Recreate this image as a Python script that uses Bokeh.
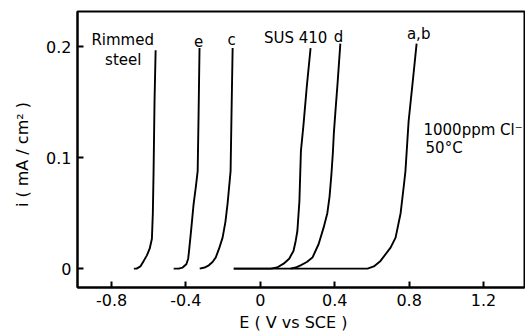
from bokeh.plotting import figure
from bokeh.models import FixedTicker, Label
from bokeh.embed import file_html
from bokeh.resources import INLINE

# Polarization curves: potential E (V vs SCE) and current density i (mA/cm^2)
rimmed_E = [-0.68, -0.665, -0.645, -0.627, -0.61, -0.595, -0.583, -0.578, -0.574, -0.569, -0.563]
rimmed_i = [0.0, 0.0, 0.002, 0.007, 0.012, 0.018, 0.027, 0.05, 0.088, 0.15, 0.197]

e_E = [-0.466, -0.44, -0.418, -0.398, -0.388, -0.384, -0.372, -0.359, -0.346, -0.337, -0.332, -0.327]
e_i = [0.0, 0.0, 0.001, 0.004, 0.009, 0.015, 0.035, 0.058, 0.075, 0.088, 0.14, 0.199]

c_E = [-0.326, -0.30, -0.277, -0.257, -0.24, -0.222, -0.203, -0.188, -0.176, -0.16, -0.155, -0.149]
c_i = [0.0, 0.001, 0.003, 0.006, 0.01, 0.018, 0.028, 0.042, 0.059, 0.088, 0.14, 0.199]

sus_E = [-0.143, 0.0, 0.056, 0.09, 0.125, 0.155, 0.178, 0.19, 0.199, 0.21, 0.218, 0.232, 0.25, 0.27]
sus_i = [0.0, 0.0, 0.0, 0.001, 0.0045, 0.009, 0.016, 0.025, 0.034, 0.061, 0.106, 0.13, 0.165, 0.199]

d_E = [0.162, 0.19, 0.216, 0.25, 0.28, 0.313, 0.34, 0.36, 0.372, 0.382, 0.39, 0.395, 0.405, 0.415, 0.43]
d_i = [0.0, 0.001, 0.003, 0.006, 0.01, 0.022, 0.037, 0.05, 0.065, 0.085, 0.105, 0.122, 0.145, 0.167, 0.203]

ab_E = [-0.143, 0.5, 0.576, 0.61, 0.646, 0.70, 0.727, 0.754, 0.77, 0.78, 0.797, 0.82, 0.84]
ab_i = [0.0, 0.0, 0.0, 0.002, 0.007, 0.019, 0.028, 0.05, 0.073, 0.088, 0.133, 0.17, 0.203]

x_ticks = [-0.8, -0.4, 0.0, 0.4, 0.8, 1.2]
x_tick_labels = ["-0.8", "-0.4", "0", "0.4", "0.8", "1.2"]
y_ticks = [0.0, 0.1, 0.2]
y_tick_labels = ["0", "0.1", "0.2"]

FONT = "DejaVu Sans"

p = figure(width=525, height=336, x_range=(-0.983, 1.42), y_range=(-0.017, 0.232),
           output_backend="svg", toolbar_location=None,
           min_border_left=77, min_border_right=1, min_border_top=11, min_border_bottom=49)
p.background_fill_color = "white"
p.border_fill_color = "white"
p.outline_line_color = "black"
p.outline_line_width = 2
p.xgrid.visible = False
p.ygrid.visible = False

for ax, ticks, labs in ((p.xaxis[0], x_ticks, x_tick_labels), (p.yaxis[0], y_ticks, y_tick_labels)):
    ax.ticker = FixedTicker(ticks=ticks)
    ax.major_label_overrides = {t: l for t, l in zip(ticks, labs)}
    ax.major_tick_in = 6
    ax.major_tick_out = 0
    ax.minor_tick_line_color = None
    ax.axis_line_width = 2
    ax.major_tick_line_width = 2
    ax.major_label_text_font = FONT
    ax.major_label_text_font_size = "16px"
    ax.major_label_text_color = "black"
    ax.axis_label_text_font = FONT
    ax.axis_label_text_font_size = "16px"
    ax.axis_label_text_font_style = "normal"
    ax.axis_label_text_color = "black"

p.xaxis.axis_label = "E   ( V vs  SCE )"
p.xaxis.major_label_standoff = 6
p.xaxis.axis_label_standoff = 4
p.yaxis.axis_label = "i   ( mA / cm² )"
p.yaxis.major_label_standoff = 6
p.yaxis.axis_label_standoff = 11

for E, I in ((rimmed_E, rimmed_i), (e_E, e_i), (c_E, c_i), (sus_E, sus_i), (d_E, d_i), (ab_E, ab_i)):
    p.line(E, I, line_color="black", line_width=1.9)

labels = [
    ("Rimmed", -0.74, 0.206, "center"),
    ("steel", -0.737, 0.188, "center"),
    ("e", -0.332, 0.205, "center"),
    ("c", -0.155, 0.206, "center"),
    ("SUS 410", 0.19, 0.208, "center"),
    ("d", 0.42, 0.209, "center"),
    ("a,b", 0.851, 0.212, "center"),
    ("1000ppm Cl⁻", 0.877, 0.125, "left"),
    ("50°C", 0.888, 0.109, "left"),
]
for txt, x, y, al in labels:
    p.add_layout(Label(x=x, y=y, text=txt, text_font=FONT, text_font_size="15px",
                       text_align=al, text_baseline="middle", text_color="black"))

open("out.html", "w").write(file_html(p, INLINE))
